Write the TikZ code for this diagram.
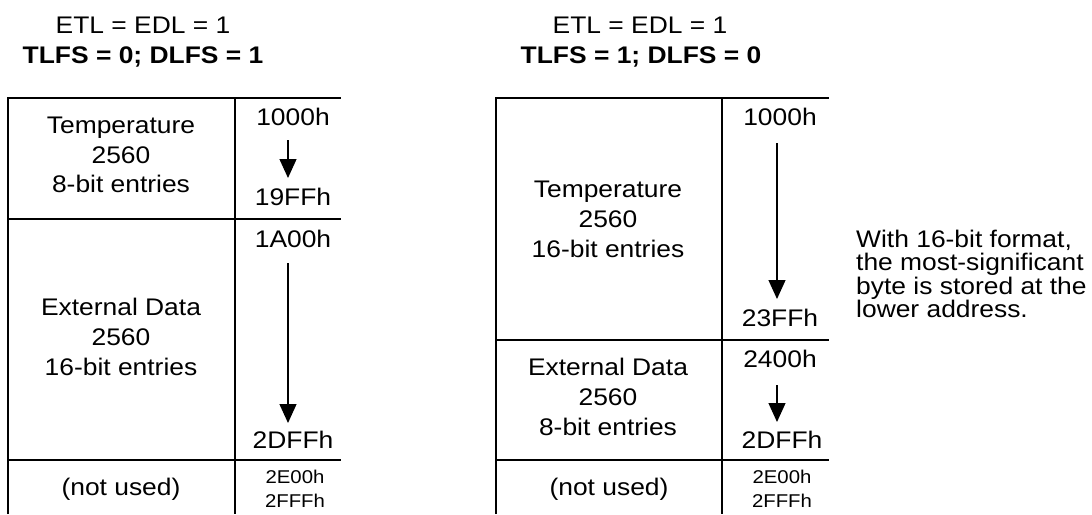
\documentclass[tikz,border=0pt]{standalone}
\usepackage{fontspec}
\setmainfont[FakeStretch=1.1]{Liberation Sans}
\usetikzlibrary{arrows.meta}
\begin{document}
\begin{tikzpicture}[x=1pt,y=-1pt,
  every node/.style={inner sep=0pt},
  txt/.style={anchor=base,font=\fontsize{24}{29}\selectfont},
  hdr/.style={anchor=base,font=\fontsize{24}{29}\selectfont\bfseries},
  small/.style={anchor=base,font=\fontsize{18.5}{23}\selectfont},
  note/.style={anchor=base west,font=\fontsize{24}{29}\selectfont},
  rule/.style={line width=1.6pt,line join=miter},
  flow/.style={line width=1.3pt,-{Triangle[width=17pt,length=19pt]}}]
\useasboundingbox (0,0) rectangle (1092,514);

% headers
\node[txt] (lh1) at (143,33) {ETL = EDL = 1};
\node[hdr] (lh2) at (143,63) {TLFS = 0; DLFS = 1};
\node[txt] (rh1) at (640,33) {ETL = EDL = 1};
\node[hdr] (rh2) at (641,63) {TLFS = 1; DLFS = 0};

% left table
\draw[rule] (8,514) -- (8,98) -- (341,98);
\draw[rule] (235,98) -- (235,514);
\draw[rule] (8,219) -- (341,219);
\draw[rule] (8,460) -- (341,460);

\node[txt] (lt1) at (121,133) {Temperature};
\node[txt] (lt2) at (121,163) {2560};
\node[txt] (lt3) at (121,192) {8-bit entries};
\node[txt] (le1) at (121,315) {External Data};
\node[txt] (le2) at (121,345) {2560};
\node[txt] (le3) at (121,375) {16-bit entries};
\node[txt] (ln) at (121,495) {(not used)};

\node[txt] (la1) at (293,125) {1000h};
\node[txt] (la2) at (293,205) {19FFh};
\node[txt] (la3) at (293,247) {1A00h};
\node[txt] (la4) at (293,448) {2DFFh};
\node[small] (la5) at (295,483) {2E00h};
\node[small] (la6) at (295,507) {2FFFh};

\coordinate (lf1s) at (288,140);
\coordinate (lf1e) at (288,178);
\coordinate (lf2s) at (288,263);
\coordinate (lf2e) at (288,423);
\draw[flow] (lf1s) -- (lf1e);
\draw[flow] (lf2s) -- (lf2e);

% right table
\draw[rule] (496,514) -- (496,98) -- (829,98);
\draw[rule] (722,98) -- (722,514);
\draw[rule] (496,340) -- (829,340);
\draw[rule] (496,460) -- (829,460);

\node[txt] (rt1) at (608,197) {Temperature};
\node[txt] (rt2) at (608,227) {2560};
\node[txt] (rt3) at (608,257) {16-bit entries};
\node[txt] (re1) at (608,375) {External Data};
\node[txt] (re2) at (608,405) {2560};
\node[txt] (re3) at (608,435) {8-bit entries};
\node[txt] (rn) at (609,495) {(not used)};

\node[txt] (ra1) at (780,125) {1000h};
\node[txt] (ra2) at (780,326) {23FFh};
\node[txt] (ra3) at (780,367) {2400h};
\node[txt] (ra4) at (782,448) {2DFFh};
\node[small] (ra5) at (782,483) {2E00h};
\node[small] (ra6) at (782,507) {2FFFh};

\coordinate (rf1s) at (777,143);
\coordinate (rf1e) at (777,299);
\coordinate (rf2s) at (777,385);
\coordinate (rf2e) at (777,422);
\draw[flow] (rf1s) -- (rf1e);
\draw[flow] (rf2s) -- (rf2e);

% note
\node[note] (n1) at (856,247) {With 16-bit format,};
\node[note] (n2) at (856,270) {the most-significant};
\node[note] (n3) at (856,294) {byte is stored at the};
\node[note] (n4) at (856,317) {lower address.};
\end{tikzpicture}
\end{document}
